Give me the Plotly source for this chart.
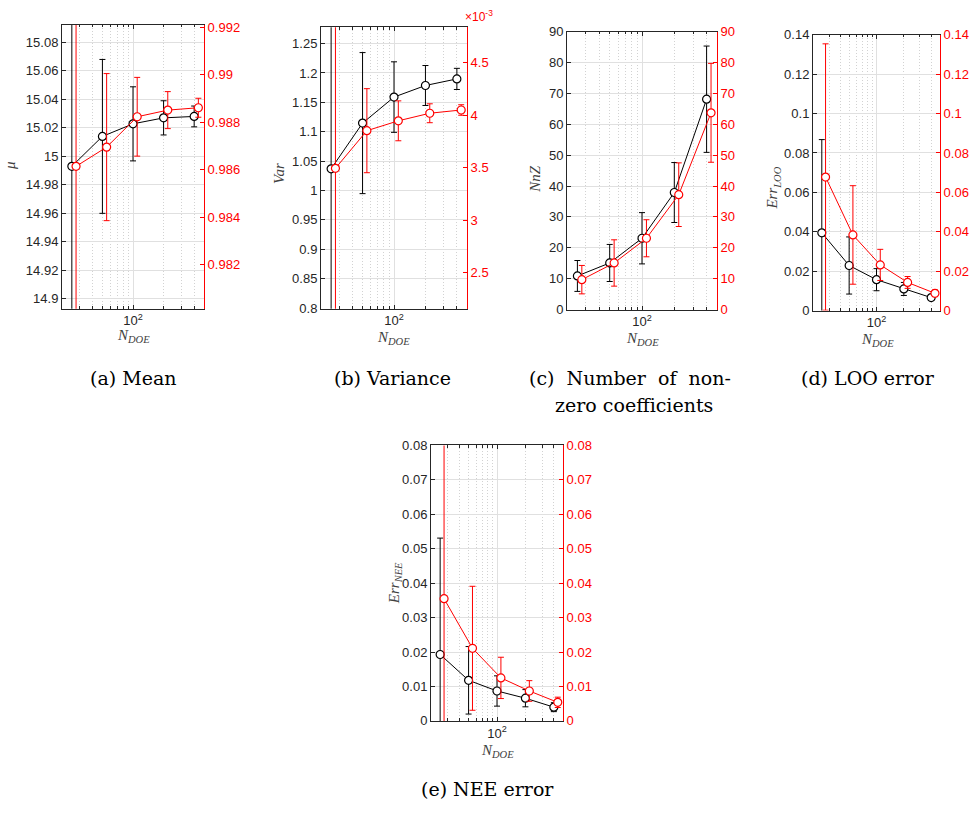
import plotly.graph_objects as go

W, H = 973, 816

# ---------------- data ----------------
N_DOE = [25, 50, 100, 200, 400]
N_DOE_RED = [27.5, 55, 110, 220, 440]

mean_black = [14.993, 15.014, 15.0228, 15.027, 15.028]
mean_black_err = [0.15, 0.054, 0.026, 0.012, 0.0073]
mean_red = [0.98614, 0.98695, 0.98823, 0.98851, 0.98861]
mean_red_err = [0.012, 0.0031, 0.00166, 0.00078, 0.0004]

var_black = [1.037, 1.1147, 1.159, 1.1787, 1.1899]
var_black_err = [0.3, 0.12, 0.06, 0.034, 0.018]
var_red = [3.494e-3, 3.852e-3, 3.946e-3, 4.018e-3, 4.049e-3]
var_red_err = [2e-3, 0.4e-3, 0.19e-3, 0.09e-3, 0.05e-3]

nnz_black = [10.9, 15.1, 23.1, 37.9, 68.1]
nnz_black_err = [5.0, 6.0, 8.3, 9.7, 17.2]
nnz_red = [9.7, 15.1, 23.1, 37.2, 63.7]
nnz_red_err = [4.6, 7.5, 6.0, 10.3, 16.0]

loo_black = [0.0395, 0.0229, 0.0157, 0.011, 0.0066]
loo_black_err = [0.0473, 0.0145, 0.0056, 0.0033, 0.0013]
loo_red = [0.0678, 0.0384, 0.0232, 0.0143, 0.0088]
loo_red_err = [0.0676, 0.025, 0.0079, 0.003, 0.0017]

nee_black = [0.0193, 0.0118, 0.0087, 0.0066, 0.004]
nee_black_err = [0.0338, 0.0098, 0.0044, 0.0025, 0.0013]
nee_red = [0.0355, 0.0211, 0.0125, 0.0087, 0.0054]
nee_red_err = [0.06, 0.018, 0.006, 0.003, 0.0015]

x_minor = [20, 30, 40, 50, 60, 70, 80, 90, 200, 300, 400, 500]

mean_lticks = [14.9, 14.92, 14.94, 14.96, 14.98, 15.0, 15.02, 15.04, 15.06, 15.08]
mean_ltext = ["14.9", "14.92", "14.94", "14.96", "14.98", "15", "15.02", "15.04", "15.06", "15.08"]
mean_rticks = [0.982, 0.984, 0.986, 0.988, 0.99, 0.992]
mean_rtext = ["0.982", "0.984", "0.986", "0.988", "0.99", "0.992"]

var_lticks = [0.8, 0.85, 0.9, 0.95, 1.0, 1.05, 1.1, 1.15, 1.2, 1.25]
var_ltext = ["0.8", "0.85", "0.9", "0.95", "1", "1.05", "1.1", "1.15", "1.2", "1.25"]
var_rticks = [2.5e-3, 3e-3, 3.5e-3, 4e-3, 4.5e-3]
var_rtext = ["2.5", "3", "3.5", "4", "4.5"]

nnz_ticks = [0, 10, 20, 30, 40, 50, 60, 70, 80, 90]
nnz_text = [str(v) for v in nnz_ticks]

loo_ticks = [0, 0.02, 0.04, 0.06, 0.08, 0.1, 0.12, 0.14]
loo_text = ["0", "0.02", "0.04", "0.06", "0.08", "0.1", "0.12", "0.14"]

nee_ticks = [0, 0.01, 0.02, 0.03, 0.04, 0.05, 0.06, 0.07, 0.08]
nee_text = ["0", "0.01", "0.02", "0.03", "0.04", "0.05", "0.06", "0.07", "0.08"]

captions = ["(a) Mean", "(b) Variance", "(c)  Number  of  non-", "zero coefficients", "(d) LOO error", "(e) NEE error"]

# ---------------- layout spec (pixels) ----------------
panels = [
    dict(box=(62, 204, 18.3, 307.3), bl=mean_black, ble=mean_black_err, rd=mean_red, rde=mean_red_err,
         lr=[14.8931, 15.0922], lt=mean_lticks, ltx=mean_ltext, rr=[0.98014, 0.9921], rt=mean_rticks, rtx=mean_rtext,
         ytitle="<i>μ</i>", ytpos=(10, 162), xtpos=(133, 335)),
    dict(box=(321, 467, 20.7, 307.3), bl=var_black, ble=var_black_err, rd=var_red, rde=var_red_err,
         lr=[0.799, 1.2777], lt=var_lticks, ltx=var_ltext, rr=[2.158e-3, 4.836e-3], rt=var_rticks, rtx=var_rtext,
         ytitle="<i>Var</i>", ytpos=(279, 170), xtpos=(393, 337)),
    dict(box=(567, 717, 25, 308.3), bl=nnz_black, ble=nnz_black_err, rd=nnz_red, rde=nnz_red_err,
         lr=[0, 90], lt=nnz_ticks, ltx=nnz_text, rr=[0, 90], rt=nnz_ticks, rtx=nnz_text,
         ytitle="<i>NnZ</i>", ytpos=(535, 175), xtpos=(642, 338)),
    dict(box=(813, 940, 28.3, 309.3), bl=loo_black, ble=loo_black_err, rd=loo_red, rde=loo_red_err,
         lr=[0, 0.14], lt=loo_ticks, ltx=loo_text, rr=[0, 0.14], rt=loo_ticks, rtx=loo_text,
         ytitle="<i>Err</i><sub><i>LOO</i></sub>", ytpos=(773, 185), xtpos=(877, 339)),
    dict(box=(431, 563, 446.7, 727.3), bl=nee_black, ble=nee_black_err, rd=nee_red, rde=nee_red_err,
         lr=[0, 0.08], lt=nee_ticks, ltx=nee_text, rr=[0, 0.08], rt=nee_ticks, rtx=nee_text,
         ytitle="<i>Err</i><sub><i>NEE</i></sub>", ytpos=(395, 587), xtpos=(497, 758)),
]
caption_pos = [(133, 378), (392, 378), (630, 378), (634, 405), (868, 378), (487, 797)]

AXC = "#262626"
RED = "#ff0000"
GRID = "#e0e0e0"
SANS = "Liberation Sans, Arial, sans-serif"
SERIF = "Liberation Serif, Times New Roman, serif"
CAPFONT = "DejaVu Serif, serif"

fig = go.Figure()
layout = dict(width=W, height=H, margin=dict(l=0, r=0, t=0, b=0), showlegend=False,
              paper_bgcolor="white", plot_bgcolor="white", annotations=[])


def px2x(p):
    return p / W


def px2y(p):
    return 1 - p / H


for i, p in enumerate(panels):
    k = i + 1
    xa = "x" if k == 1 else f"x{k}"
    yl_n, yr_n = 2 * k - 1, 2 * k
    yl = "y" if yl_n == 1 else f"y{yl_n}"
    yr = f"y{yr_n}"
    l, r, t, b = p["box"]

    fig.add_trace(go.Scatter(
        x=N_DOE, y=p["bl"], xaxis=xa, yaxis=yl, mode="lines+markers",
        line=dict(color="black", width=1),
        marker=dict(symbol="circle", size=8, color="white", line=dict(color="black", width=1.2)),
        error_y=dict(type="data", array=p["ble"], color="black", thickness=1, width=3),
    ))
    fig.add_trace(go.Scatter(
        x=N_DOE_RED, y=p["rd"], xaxis=xa, yaxis=yr, mode="lines+markers",
        line=dict(color=RED, width=1),
        marker=dict(symbol="circle", size=8, color="white", line=dict(color=RED, width=1.2)),
        error_y=dict(type="data", array=p["rde"], color=RED, thickness=1, width=3),
    ))

    xkey = "xaxis" if k == 1 else f"xaxis{k}"
    ylkey = "yaxis" if yl_n == 1 else f"yaxis{yl_n}"
    yrkey = f"yaxis{yr_n}"

    layout[xkey] = dict(
        type="log", domain=[px2x(l), px2x(r)], range=[1.30103, 2.69897], anchor=yl,
        tickmode="array", tickvals=[100], ticktext=["10<sup>2</sup>"],
        ticks="inside", ticklen=4, tickcolor=AXC, showline=True, linecolor=AXC, linewidth=1,
        mirror="ticks", showgrid=True, gridcolor=GRID, gridwidth=1, zeroline=False,
        tickfont=dict(family=SANS, size=13, color=AXC),
        minor=dict(tickmode="array", tickvals=x_minor, ticks="inside", ticklen=2.5, tickcolor=AXC,
                   showgrid=True, gridcolor="#d2d2d2", griddash="1px,2px", gridwidth=1),
    )
    layout[ylkey] = dict(
        domain=[px2y(b), px2y(t)], range=p["lr"], anchor=xa,
        tickmode="array", tickvals=p["lt"], ticktext=p["ltx"],
        ticks="inside", ticklen=4, tickcolor=AXC, showline=True, linecolor=AXC, linewidth=1,
        showgrid=True, gridcolor=GRID, gridwidth=1, zeroline=False,
        tickfont=dict(family=SANS, size=13, color=AXC),
    )
    layout[yrkey] = dict(
        overlaying=yl, side="right", range=p["rr"], anchor=xa,
        tickmode="array", tickvals=p["rt"], ticktext=p["rtx"],
        ticks="inside", ticklen=4, tickcolor=RED, showline=True, linecolor=RED, linewidth=1,
        showgrid=False, zeroline=False,
        tickfont=dict(family=SANS, size=13, color=RED),
    )

    ann = layout["annotations"]
    ann.append(dict(text=p["ytitle"], x=px2x(p["ytpos"][0]), y=px2y(p["ytpos"][1]), xref="paper", yref="paper",
                    showarrow=False, textangle=-90, xanchor="center", yanchor="middle",
                    font=dict(family=SERIF, size=15, color="#404040")))
    ann.append(dict(text="<i>N</i><sub><i>DOE</i></sub>", x=px2x(p["xtpos"][0]), y=px2y(p["xtpos"][1]),
                    xref="paper", yref="paper", showarrow=False, xanchor="center", yanchor="middle",
                    font=dict(family=SERIF, size=15, color="#404040")))

for txt, (cx, cy) in zip(captions, caption_pos):
    layout["annotations"].append(dict(text=txt, x=px2x(cx), y=px2y(cy), xref="paper", yref="paper",
                                      showarrow=False, xanchor="center", yanchor="middle",
                                      font=dict(family=CAPFONT, size=19, color="black")))

layout["annotations"].append(dict(text="×10<sup>-3</sup>", x=px2x(463), y=px2y(9), xref="paper", yref="paper",
                                  showarrow=False, xanchor="left", yanchor="middle",
                                  font=dict(family=SANS, size=12, color=RED)))

fig.update_layout(**layout)
fig.write_html("out.html")
